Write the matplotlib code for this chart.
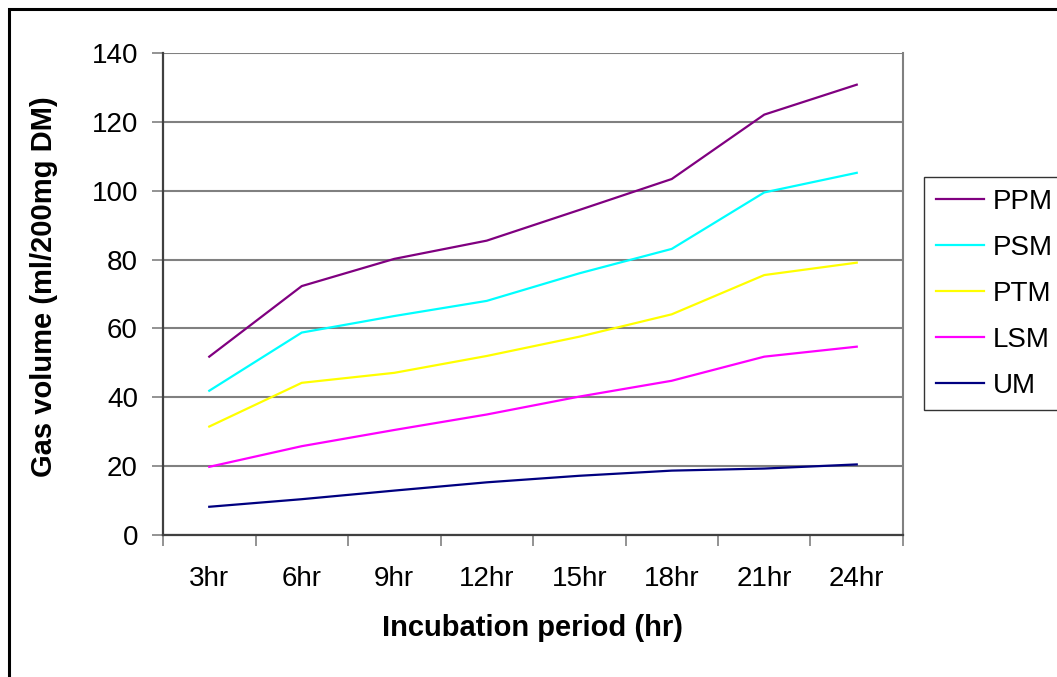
import matplotlib.pyplot as plt
from matplotlib.patches import Rectangle

plt.rcParams['font.family'] = ['Liberation Sans', 'DejaVu Sans']

periods = ['3hr', '6hr', '9hr', '12hr', '15hr', '18hr', '21hr', '24hr']
ppm = [51.8, 72.3, 80.2, 85.5, 94.4, 103.4, 122.1, 130.8]
psm = [41.9, 58.8, 63.6, 68.0, 76.0, 83.1, 99.5, 105.2]
ptm = [31.5, 44.2, 47.1, 52.0, 57.6, 64.1, 75.5, 79.1]
lsm = [19.8, 25.8, 30.5, 35.0, 40.2, 44.8, 51.8, 54.7]
um = [8.2, 10.4, 12.9, 15.3, 17.2, 18.7, 19.3, 20.5]

series = [('PPM', ppm, '#800080'), ('PSM', psm, '#00ffff'),
          ('PTM', ptm, '#ffff00'), ('LSM', lsm, '#ff00ff'),
          ('UM', um, '#000080')]

W, H = 1057, 677
fig = plt.figure(figsize=(W / 100, H / 100), dpi=100)
ax = fig.add_axes([163 / W, (H - 535) / H, 740 / W, 482 / H])

x = list(range(len(periods)))
handles = []
for name, vals, col in series:
    h, = ax.plot(x, vals, color=col, lw=1.6, label=name, zorder=3)
    handles.append(h)

ax.set_xlim(-0.5, len(periods) - 0.5)
ax.set_ylim(0, 140)
ax.set_yticks(range(0, 141, 20))
ax.yaxis.grid(True, color='#808080', lw=1.5)
ax.set_axisbelow(True)

# category ticks sit on the bin edges, labels in the middle
ax.set_xticks([i - 0.5 for i in range(len(periods) + 1)])
ax.set_xticklabels([])
ax.set_xticks(x, minor=True)
ax.set_xticklabels(periods, minor=True)
ax.tick_params(axis='x', which='minor', length=0, pad=22, labelsize=20)
ax.tick_params(axis='x', which='major', length=8, width=1.2, color='#808080')
ax.tick_params(axis='y', length=8, width=1.2, color='#808080', pad=10, labelsize=20)

for s in ('left', 'bottom'):
    ax.spines[s].set_color('#404040')
    ax.spines[s].set_linewidth(1.6)
ax.spines['right'].set_color('#808080')
ax.spines['right'].set_linewidth(1.5)
ax.spines['top'].set_visible(False)

ax.set_xlabel('Incubation period (hr)', fontsize=21, fontweight='bold', labelpad=16)
ax.set_ylabel('Gas volume (ml/200mg DM)', fontsize=21, fontweight='bold', labelpad=24)
ax.yaxis.label.set_y(0.515)

leg = fig.legend(handles=handles, loc='upper left', bbox_to_anchor=(924 / W, 1 - 177 / H),
                 fancybox=False, edgecolor='black', fontsize=20, handlelength=1.75,
                 labelspacing=0.72, borderpad=0.42, borderaxespad=0, handletextpad=0.32)
leg.get_frame().set_linewidth(1.0)

fig.patches.append(Rectangle((9 / W, -0.1), 1.2, 1.1 - 9 / H, transform=fig.transFigure,
                             fill=False, edgecolor='black', lw=2.2))

fig.savefig('out.png', dpi=100)
